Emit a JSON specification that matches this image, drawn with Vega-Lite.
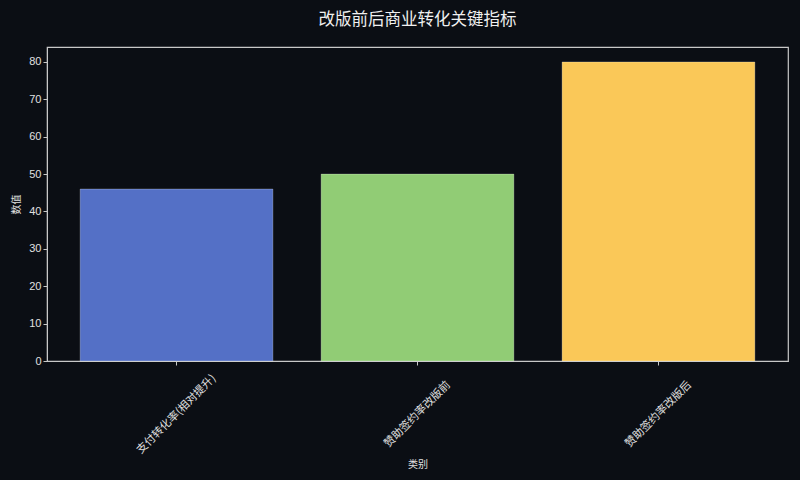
{
  "$schema": "https://vega.github.io/schema/vega-lite/v6.json",
  "autosize": {"type": "none"},
  "width": 741,
  "height": 314,
  "padding": {"left": 47, "top": 47, "right": 12, "bottom": 119},
  "background": "#0b0e14",
  "title": {"text": "改版前后商业转化关键指标", "color": "#f0f0f0", "fontSize": 16.5, "font": "Noto Sans CJK SC", "fontWeight": "normal", "offset": 19},
  "config": {
    "font": "Noto Sans CJK SC",
    "view": {"stroke": "#c8c8c8", "strokeWidth": 1.2},
    "axis": {"domainColor": "#c8c8c8", "tickColor": "#c8c8c8", "labelColor": "#e0e0e0", "titleColor": "#e0e0e0", "labelFont": "Liberation Sans", "labelFontSize": 11, "titleFontSize": 10, "titleFontWeight": "normal", "grid": false}
  },
  "data": {"values": [
    {"类别": "支付转化率(相对提升)", "数值": 46},
    {"类别": "赞助签约率改版前", "数值": 50},
    {"类别": "赞助签约率改版后", "数值": 80}
  ]},
  "mark": {"type": "bar", "stroke": "#ffffff", "strokeOpacity": 0.25, "strokeWidth": 1},
  "encoding": {
    "x": {"field": "类别", "type": "nominal", "sort": null,
      "scale": {"paddingInner": 0.2, "paddingOuter": 0.1375},
      "axis": {"title": "类别", "labelAngle": -45, "labelAlign": "center", "labelBaseline": "middle", "labelPadding": 49, "labelFont": "Noto Sans CJK SC", "labelFontSize": 11, "titlePadding": 4, "tickSize": 4}},
    "y": {"field": "数值", "type": "quantitative",
      "scale": {"domain": [0, 84], "nice": false},
      "axis": {"title": "数值", "values": [0,10,20,30,40,50,60,70,80], "titlePadding": 7, "tickSize": 4}},
    "color": {"field": "类别", "type": "nominal", "sort": null, "legend": null,
      "scale": {"range": ["#5470c6", "#91cc75", "#fac858"]}}
  }
}
